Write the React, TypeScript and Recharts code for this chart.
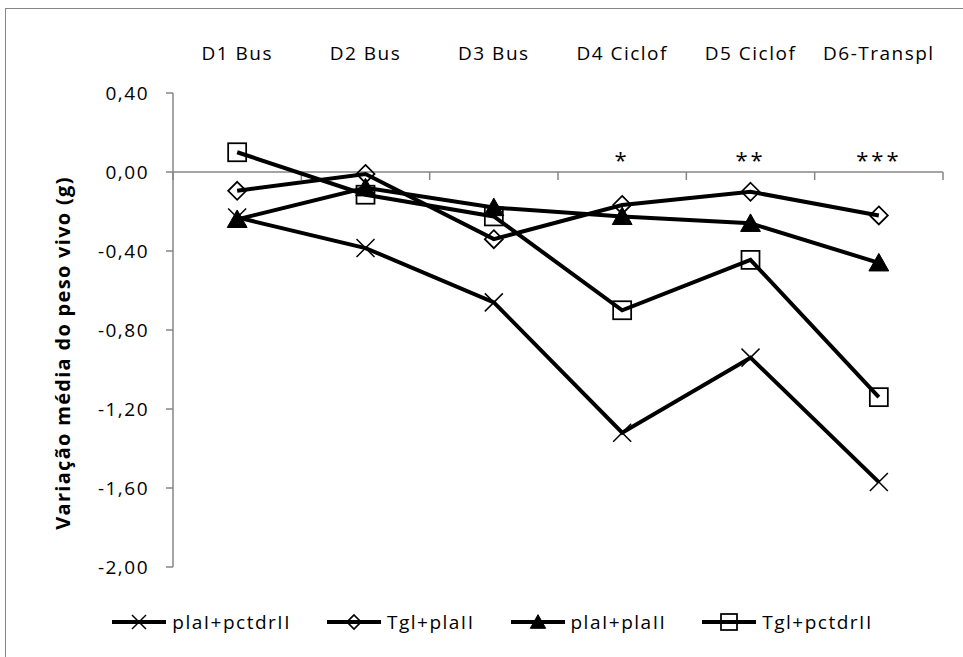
import React from 'react';
import { LineChart, Line, XAxis, YAxis, ReferenceLine, ReferenceDot, Legend } from 'recharts';

const categories = ['D1 Bus', 'D2 Bus', 'D3 Bus', 'D4 Ciclof', 'D5 Ciclof', 'D6-Transpl'];
const plaIpctdrII = [-0.23, -0.385, -0.66, -1.32, -0.94, -1.57];
const TglplaII = [-0.095, -0.01, -0.34, -0.167, -0.1, -0.22];
const plaIplaII = [-0.24, -0.08, -0.18, -0.225, -0.26, -0.46];
const TglpctdrII = [0.1, -0.115, -0.225, -0.7, -0.445, -1.14];
const annotations = ['', '', '', '*', '**', '***'];
const yTicks = [-2, -1.6, -1.2, -0.8, -0.4, 0, 0.4];
const seriesNames = ['plaI+pctdrII', 'Tgl+plaII', 'plaI+plaII', 'Tgl+pctdrII'];
const seriesMarkers = ['cross', 'diamond', 'triangle', 'square'];
const seriesValues = [plaIpctdrII, TglplaII, plaIplaII, TglpctdrII];

const data = categories.map((c, i) => {
  const row: any = { cat: c };
  seriesNames.forEach((n, s) => {
    row['s' + s] = seriesValues[s][i];
  });
  return row;
});

const FONT = '"Open Sans", sans-serif';
const AXIS = '#868686';

function Marker({ type, cx, cy, size }: { type: string; cx: number; cy: number; size: number }) {
  const h = size / 2;
  if (type === 'cross') {
    return (
      <g>
        <line x1={cx - h} y1={cy - h} x2={cx + h} y2={cy + h} stroke="#000" strokeWidth={1.5} />
        <line x1={cx - h} y1={cy + h} x2={cx + h} y2={cy - h} stroke="#000" strokeWidth={1.5} />
      </g>
    );
  }
  if (type === 'diamond') {
    return (
      <polygon
        points={`${cx},${cy - h} ${cx + h},${cy} ${cx},${cy + h} ${cx - h},${cy}`}
        fill="none"
        stroke="#000"
        strokeWidth={1.75}
      />
    );
  }
  if (type === 'triangle') {
    return (
      <polygon
        points={`${cx},${cy - h * 1.05} ${cx + h * 1.1},${cy + h * 0.9} ${cx - h * 1.1},${cy + h * 0.9}`}
        fill="#000"
        stroke="#000"
        strokeWidth={1}
      />
    );
  }
  return <rect x={cx - h} y={cy - h} width={size} height={size} fill="none" stroke="#000" strokeWidth={1.75} />;
}

const fmt = (v: number) => {
  const s = Math.abs(v) < 1e-9 ? '0,00' : v.toFixed(2).replace('.', ',');
  return s;
};

const TopTick = (props: any) => {
  const { x, y, payload } = props;
  return (
    <text x={x} y={y} dy={-33} textAnchor="middle" fill="#000" fontFamily={FONT} fontSize={19} letterSpacing={1.5}>
      {payload.value}
    </text>
  );
};

const ZeroAxis = (props: any) => {
  const { x1, y1, x2, y2 } = props;
  const n = categories.length;
  const ticks = [];
  for (let i = 0; i <= n; i++) {
    const x = x1 + ((x2 - x1) * i) / n;
    ticks.push(<line key={i} x1={x} y1={y1} x2={x} y2={y1 + 8} stroke={AXIS} strokeWidth={1.5} />);
  }
  return (
    <g>
      <line x1={x1} y1={y1} x2={x2} y2={y2} stroke={AXIS} strokeWidth={1.5} />
      {ticks}
    </g>
  );
};

const YLabel = (props: any) => {
  const vb = props.viewBox || { x: 0, y: 93, width: 173, height: 474 };
  const cx = vb.x + 70;
  const cy = vb.y + vb.height / 2 + 23;
  return (
    <text
      x={0}
      y={0}
      transform={`translate(${cx}, ${cy}) rotate(-90)`}
      textAnchor="middle"
      fill="#000"
      fontFamily={FONT}
      fontWeight="bold"
      fontSize={20}
      letterSpacing={1.3}
    >
      Variação média do peso vivo (g)
    </text>
  );
};

const LegendContent = () => (
  <div
    style={{
      display: 'flex',
      justifyContent: 'center',
      alignItems: 'center',
      height: 34,
      paddingLeft: 22,
      gap: 36,
      fontFamily: FONT,
      fontSize: 19,
      letterSpacing: 1.5,
      color: '#000',
    }}
  >
    {seriesNames.map((n, i) => (
      <div key={n} style={{ display: 'flex', alignItems: 'center' }}>
        <svg width={54} height={22} style={{ display: 'block' }}>
          <line x1={0} y1={11} x2={54} y2={11} stroke="#000" strokeWidth={4} />
          <Marker type={seriesMarkers[i]} cx={27} cy={11} size={seriesMarkers[i] === 'square' ? 16 : 14} />
        </svg>
        <span style={{ marginLeft: 6, lineHeight: '22px' }}>{n}</span>
      </div>
    ))}
  </div>
);

export default function App() {
  return (
    <div style={{ position: 'absolute', left: 0, top: 0, width: 963, height: 657, background: '#fff', overflow: 'hidden' }}>
      <div
        style={{
          position: 'absolute',
          left: 5,
          top: 8,
          width: 958,
          height: 649,
          borderTop: `1px solid ${AXIS}`,
          borderLeft: `1px solid ${AXIS}`,
        }}
      />
      <div style={{ position: 'absolute', left: 0, top: 0 }}>
        <LineChart width={963} height={657} data={data} margin={{ top: 53, right: 20, bottom: 56, left: 0 }}>
          <XAxis
            dataKey="cat"
            orientation="top"
            scale="band"
            height={40}
            axisLine={false}
            tickLine={false}
            tickSize={0}
            tickMargin={0}
            interval={0}
            tick={<TopTick />}
          />
          <YAxis
            width={173}
            domain={[-2, 0.4]}
            ticks={yTicks}
            interval={0}
            tickFormatter={fmt}
            axisLine={{ stroke: AXIS, strokeWidth: 1.5 }}
            tickLine={{ stroke: AXIS, strokeWidth: 1.5 }}
            tickSize={7}
            tickMargin={17}
            tick={{ fill: '#000', fontFamily: FONT, fontSize: 19, letterSpacing: 1.5 }}
            label={<YLabel />}
            allowDataOverflow
          />
          <ReferenceLine y={0} shape={<ZeroAxis />} ifOverflow="extendDomain" />
          {annotations.map((a, i) =>
            a ? (
              <ReferenceDot
                key={'ann' + i}
                x={categories[i]}
                y={0}
                r={1}
                fill="none"
                stroke="none"
                ifOverflow="visible"
                label={(p: any) => {
                  const vb = p.viewBox;
                  return (
                    <text
                      x={vb.x + vb.width / 2}
                      y={vb.y + vb.height / 2 - 4}
                      textAnchor="middle"
                      fontFamily={FONT}
                      fontSize={22}
                      letterSpacing={3}
                      fill="#000"
                    >
                      {a}
                    </text>
                  );
                }}
              />
            ) : null
          )}
          {seriesNames.map((n, s) => (
            <Line
              key={n}
              dataKey={'s' + s}
              name={n}
              stroke="#000"
              strokeWidth={4}
              isAnimationActive={false}
              activeDot={false}
              dot={(p: any) => <Marker key={n + p.index} type={seriesMarkers[s]} cx={p.cx} cy={p.cy} size={18} />}
            />
          ))}
          <Legend verticalAlign="bottom" content={<LegendContent />} wrapperStyle={{ top: 605, left: 0, width: 963, height: 34 }} />
        </LineChart>
      </div>
    </div>
  );
}
